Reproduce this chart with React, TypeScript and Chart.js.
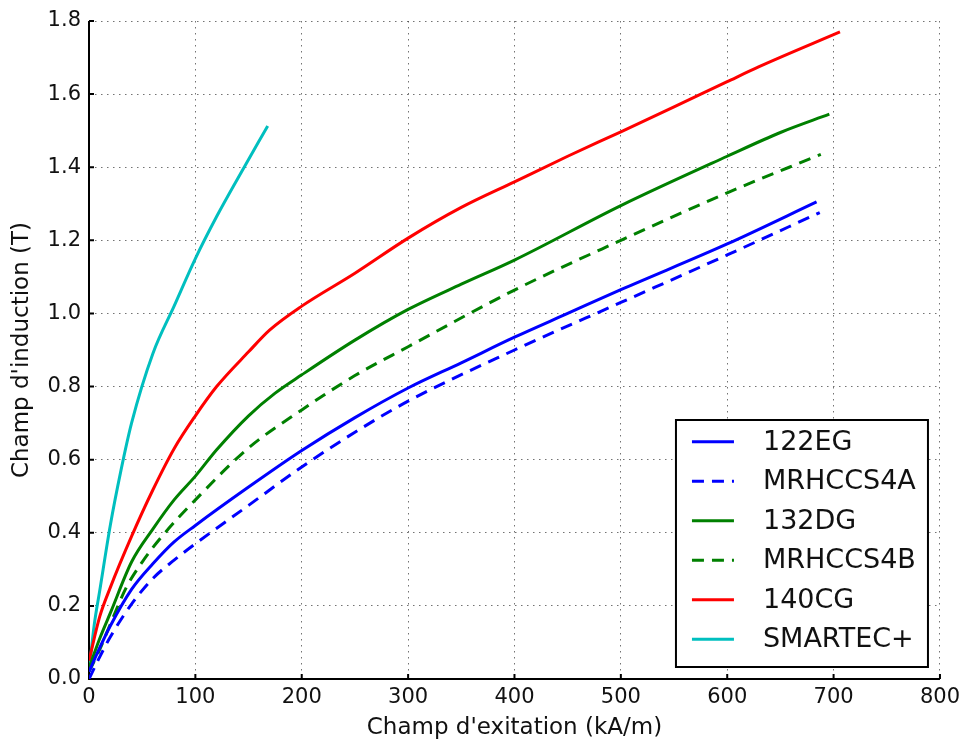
import React, { useEffect, useRef } from 'react';
import { Chart, registerables } from 'chart.js';

Chart.register(...registerables);

// ---- Data ----
const xTicks = [0, 100, 200, 300, 400, 500, 600, 700, 800];
const yTicks = [0, 0.2, 0.4, 0.6, 0.8, 1.0, 1.2, 1.4, 1.6, 1.8];

const seriesNames = ['122EG', 'MRHCCS4A', '132DG', 'MRHCCS4B', '140CG', 'SMARTEC+'];
const seriesColors = ['#0000ff', '#0000ff', '#008000', '#008000', '#ff0000', '#00bfbf'];
const seriesDashed = [false, true, false, true, false, false];

const eg122X = [0, 10, 20, 40, 60, 80, 100, 150, 200, 250, 300, 350, 400, 450, 500, 600, 684];
const eg122Y = [0.02, 0.085, 0.145, 0.245, 0.315, 0.375, 0.42, 0.525, 0.625, 0.715, 0.796, 0.865, 0.935, 1.0, 1.065, 1.19, 1.305];

const s4aX = [0, 10, 20, 40, 60, 80, 100, 150, 200, 250, 300, 400, 500, 600, 687];
const s4aY = [0.0, 0.06, 0.115, 0.205, 0.275, 0.325, 0.37, 0.475, 0.58, 0.675, 0.76, 0.9, 1.03, 1.16, 1.276];

const dg132X = [0, 10, 20, 40, 60, 80, 100, 120, 150, 175, 200, 250, 300, 350, 400, 500, 600, 650, 696];
const dg132Y = [0.03, 0.11, 0.18, 0.32, 0.41, 0.49, 0.555, 0.627, 0.72, 0.782, 0.832, 0.927, 1.011, 1.08, 1.146, 1.295, 1.43, 1.495, 1.545];

const s4bX = [0, 10, 20, 35, 50, 70, 100, 150, 200, 250, 300, 400, 500, 600, 688];
const s4bY = [0.02, 0.08, 0.15, 0.25, 0.32, 0.395, 0.49, 0.632, 0.736, 0.83, 0.909, 1.064, 1.2, 1.33, 1.435];

const cg140X = [0, 10, 20, 40, 60, 80, 100, 120, 150, 170, 200, 250, 300, 350, 400, 450, 500, 550, 600, 630, 706];
const cg140Y = [0.05, 0.17, 0.25, 0.39, 0.517, 0.63, 0.72, 0.8, 0.895, 0.955, 1.02, 1.11, 1.206, 1.29, 1.36, 1.43, 1.497, 1.565, 1.634, 1.675, 1.77];

const smartecX = [0, 5, 10, 20, 30, 40, 60, 80, 100, 120, 140, 168];
const smartecY = [0.02, 0.15, 0.24, 0.42, 0.57, 0.7, 0.89, 1.02, 1.15, 1.265, 1.37, 1.513];

const seriesX = [eg122X, s4aX, dg132X, s4bX, cg140X, smartecX];
const seriesY = [eg122Y, s4aY, dg132Y, s4bY, cg140Y, smartecY];

const xTitle = "Champ d'exitation (kA/m)";
const yTitle = "Champ d'induction (T)";

const FONT = "'DejaVu Sans', sans-serif";
const DASH = [12, 8];

const framePlugin = {
  id: 'frame',
  beforeDatasetsDraw(chart: any) {
    const { ctx, chartArea: a, scales } = chart;
    const xs = scales.x;
    const ys = scales.y;
    ctx.save();
    ctx.strokeStyle = '#000';
    ctx.lineWidth = 2;
    ctx.beginPath();
    ctx.moveTo(a.left, a.top);
    ctx.lineTo(a.left, a.bottom);
    ctx.lineTo(a.right, a.bottom);
    ctx.stroke();
    ctx.beginPath();
    xs.ticks.forEach((t: any) => {
      const px = xs.getPixelForValue(t.value);
      ctx.moveTo(px, a.bottom);
      ctx.lineTo(px, a.bottom - 5);
    });
    ys.ticks.forEach((t: any) => {
      const py = ys.getPixelForValue(t.value);
      ctx.moveTo(a.left, py);
      ctx.lineTo(a.left + 5, py);
    });
    ctx.stroke();
    ctx.restore();
  },
  afterDraw(chart: any) {
    const { ctx, chartArea: a } = chart;
    const w = 252;
    const h = 247;
    const right = a.right - 12;
    const bottom = a.bottom - 12;
    const left = right - w;
    const top = bottom - h;
    ctx.save();
    ctx.fillStyle = '#fff';
    ctx.fillRect(left, top, w, h);
    ctx.strokeStyle = '#000';
    ctx.lineWidth = 2;
    ctx.strokeRect(left, top, w, h);
    ctx.font = `27px ${FONT}`;
    ctx.textBaseline = 'middle';
    ctx.textAlign = 'left';
    chart.data.datasets.forEach((ds: any, i: number) => {
      const y = top + 21.7 + i * 39.5;
      ctx.strokeStyle = ds.borderColor;
      ctx.lineWidth = 3;
      ctx.setLineDash(ds.borderDash && ds.borderDash.length ? DASH : []);
      ctx.beginPath();
      ctx.moveTo(left + 16, y);
      ctx.lineTo(left + 58, y);
      ctx.stroke();
      ctx.setLineDash([]);
      ctx.fillStyle = '#111';
      ctx.fillText(ds.label, left + 87, y + 1);
    });
    ctx.restore();
  },
};

export default function App() {
  const ref = useRef<HTMLCanvasElement | null>(null);

  useEffect(() => {
    document.body.style.margin = '0';
    const canvas = ref.current;
    if (!canvas) return;

    const datasets = seriesNames.map((name, i) => ({
      label: name,
      data: seriesX[i].map((x, j) => ({ x, y: seriesY[i][j] })),
      borderColor: seriesColors[i],
      backgroundColor: seriesColors[i],
      borderWidth: 3,
      borderDash: seriesDashed[i] ? DASH : [],
      pointRadius: 0,
      cubicInterpolationMode: 'monotone' as const,
      fill: false,
    }));

    const chart = new Chart(canvas, {
      type: 'line',
      data: { datasets },
      options: {
        animation: false,
        responsive: false,
        devicePixelRatio: 1,
        layout: { padding: { top: 21, right: 24, left: 0, bottom: 0 } },
        plugins: {
          legend: { display: false },
          tooltip: { enabled: false },
        },
        scales: {
          x: {
            type: 'linear',
            min: 0,
            max: 800,
            afterBuildTicks: (s: any) => {
              s.ticks = xTicks.map((v) => ({ value: v }));
            },
            afterFit: (s: any) => {
              s.height = 63;
            },
            ticks: {
              font: { family: FONT, size: 21 },
              color: '#111',
              padding: 6,
              maxRotation: 0,
              autoSkip: false,
            },
            grid: {
              color: 'rgba(0,0,0,0.55)',
              lineWidth: 1,
              drawTicks: false,
            },
            border: { display: false, dash: [1.5, 4.5] },
            title: {
              display: true,
              text: xTitle,
              font: { family: FONT, size: 23 },
              color: '#111',
              padding: { top: 0, bottom: 0 },
            },
          },
          y: {
            type: 'linear',
            min: 0,
            max: 1.8,
            afterBuildTicks: (s: any) => {
              s.ticks = yTicks.map((v) => ({ value: v }));
            },
            afterFit: (s: any) => {
              s.width = 89;
            },
            ticks: {
              font: { family: FONT, size: 21 },
              color: '#111',
              padding: 8,
              autoSkip: false,
              callback: (v: any) => Number(v).toFixed(1),
            },
            grid: {
              color: 'rgba(0,0,0,0.55)',
              lineWidth: 1,
              drawTicks: false,
            },
            border: { display: false, dash: [1.5, 4.5] },
            title: {
              display: true,
              text: yTitle,
              font: { family: FONT, size: 23 },
              color: '#111',
              padding: { top: 8, bottom: 0 },
            },
          },
        },
      },
      plugins: [framePlugin],
    });

    return () => chart.destroy();
  }, []);

  return <canvas ref={ref} width={966} height={742} style={{ display: 'block' }} />;
}
